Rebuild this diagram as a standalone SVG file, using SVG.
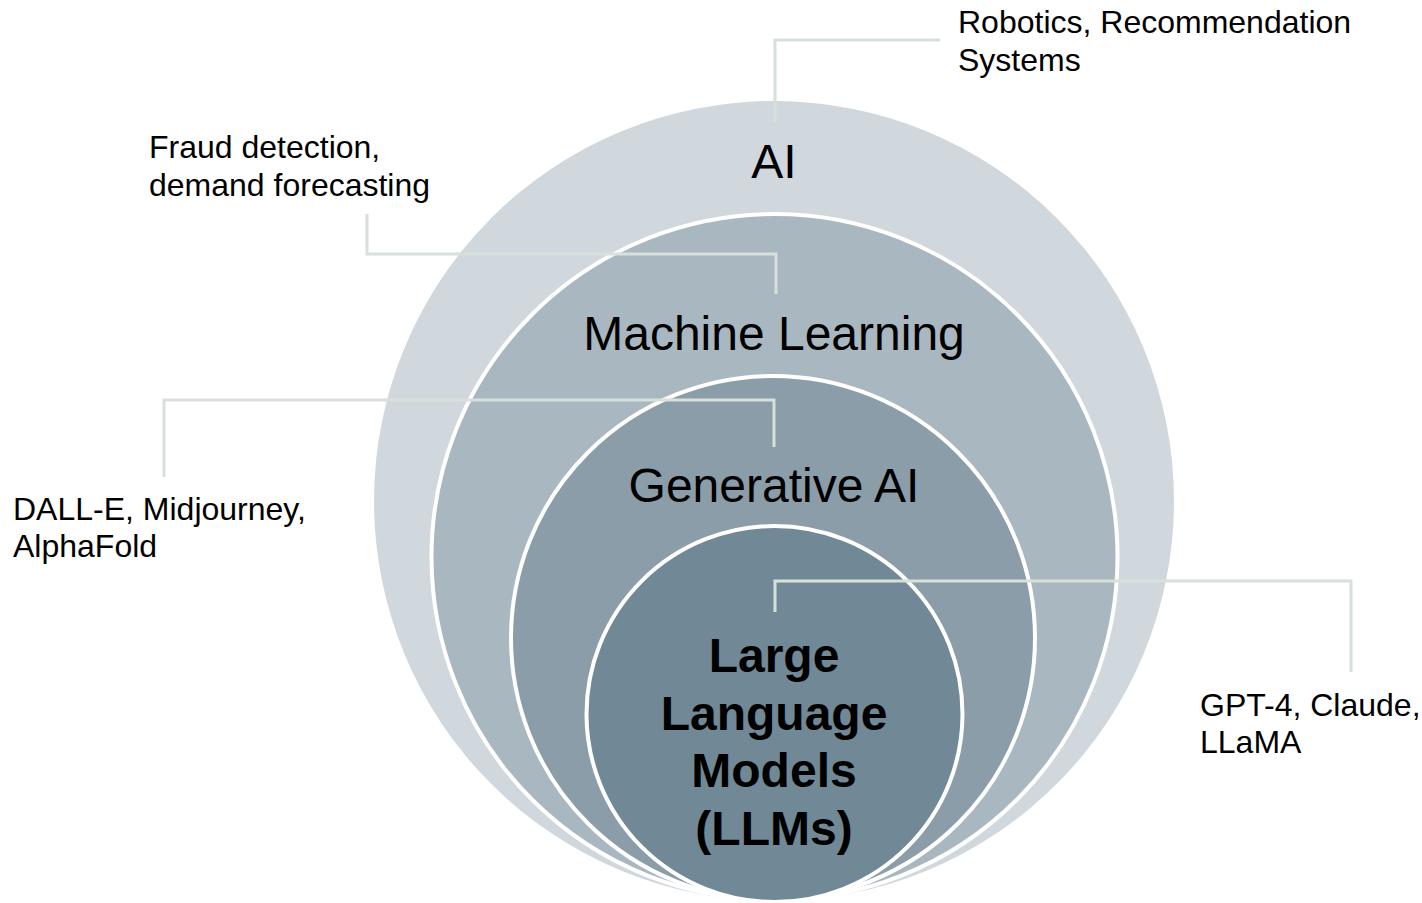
<svg xmlns="http://www.w3.org/2000/svg" width="1422" height="903" viewBox="0 0 1422 903">
<style>
.lbl{font-family:"Liberation Sans",Arial,sans-serif;font-size:32px;fill:#000}
.big{font-family:"Liberation Sans",Arial,sans-serif;font-size:48px;fill:#000;text-anchor:middle}
.bold{font-family:"Liberation Sans",Arial,sans-serif;font-size:48px;font-weight:bold;fill:#000;text-anchor:middle}
.ring{stroke:#fff;stroke-width:4}
.conn{fill:none;stroke:#D8E0DA;stroke-width:3}
</style>
<rect width="1422" height="903" fill="#fff"/>
<g id="ai">
<circle cx="774" cy="501" r="400" fill="#D0D7DD"/>
<text class="big" x="774" y="178">AI</text>
</g>
<g id="ml">
<circle class="ring" cx="774.5" cy="557" r="343" fill="#A9B7C0"/>
<text class="big" x="774" y="350">Machine Learning</text>
</g>
<g id="genai">
<circle class="ring" cx="773" cy="638" r="262" fill="#8B9DA9"/>
<text class="big" x="774" y="502">Generative AI</text>
</g>
<g id="llm">
<circle class="ring" cx="774.5" cy="714" r="188" fill="#718896"/>
<text class="bold" x="774" y="672">Large</text>
<text class="bold" x="774" y="730">Language</text>
<text class="bold" x="774" y="787">Models</text>
<text class="bold" x="774" y="845">(LLMs)</text>
</g>
<g id="connectors">
<polyline class="conn" points="775,122 775,40 940,40"/>
<polyline class="conn" points="367,214 367,254 776,254 776,294"/>
<polyline class="conn" points="164,477 164,400 774,400 774,447"/>
<polyline class="conn" points="775,612 775,581 1351,581 1351,672"/>
</g>
<g id="label-ai">
<text class="lbl" x="958" y="33">Robotics, Recommendation</text>
<text class="lbl" x="958" y="71">Systems</text>
</g>
<g id="label-ml">
<text class="lbl" x="149" y="158">Fraud detection,</text>
<text class="lbl" x="149" y="196">demand forecasting</text>
</g>
<g id="label-genai">
<text class="lbl" x="13" y="520">DALL-E, Midjourney,</text>
<text class="lbl" x="13" y="557">AlphaFold</text>
</g>
<g id="label-llm">
<text class="lbl" x="1200" y="716">GPT-4, Claude,</text>
<text class="lbl" x="1200" y="753">LLaMA</text>
</g>
</svg>
